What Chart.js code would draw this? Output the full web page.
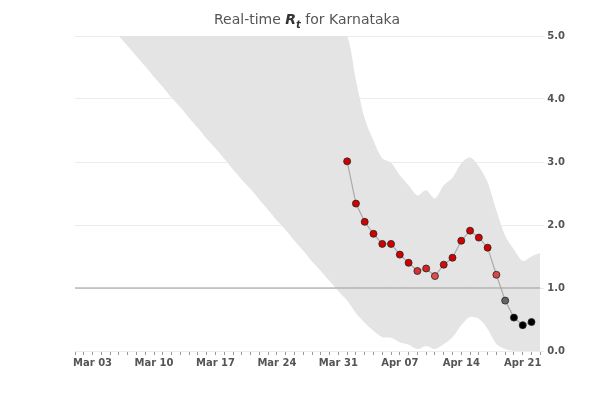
<!DOCTYPE html>
<html>
<head>
<meta charset="utf-8">
<script src="https://cdn.jsdelivr.net/npm/chart.js@4"></script>
<style>
  body { margin: 0; background: #fff; font-family: "DejaVu Sans", sans-serif; }
  #wrap { position: relative; width: 600px; height: 400px; }
  #title { position: absolute; top: 11px; left: 0; width: 614px; text-align: center; font-size: 14px; color: #555; }
  #title b { font-style: italic; color: #333; }
  #title sub { font-size: 10px; }
</style>
</head>
<body>
<div id="wrap">
  <div id="title">Real-time <b>R<sub>t</sub></b> for Karnataka</div>
  <canvas id="c" width="600" height="400"></canvas>
</div>
<script>
const dates = [];
for (let d = 1; d <= 31; d++) dates.push('Mar ' + String(d).padStart(2, '0'));
for (let d = 1; d <= 23; d++) dates.push('Apr ' + String(d).padStart(2, '0'));

// Rt estimate, Apr 01 .. Apr 22
const rt = [3.01, 2.34, 2.05, 1.86, 1.70, 1.70, 1.53, 1.40, 1.27, 1.31, 1.19,
            1.37, 1.48, 1.75, 1.91, 1.80, 1.64, 1.21, 0.80, 0.53, 0.41, 0.46];

// credible interval, Mar 06 .. Apr 23
const lower = [5.0, 4.84, 4.68, 4.52, 4.35, 4.19, 4.02, 3.87, 3.70, 3.54, 3.37, 3.22, 3.05,
  2.88, 2.72, 2.57, 2.40, 2.24, 2.07, 1.92, 1.75, 1.59, 1.42, 1.27, 1.11, 0.95,
  0.80, 0.60, 0.45, 0.32, 0.22, 0.21, 0.14, 0.10, 0.03, 0.08, 0.03, 0.11, 0.22,
  0.41, 0.54, 0.51, 0.35, 0.11, 0.03, 0.0, 0.0, 0.0, 0.0];
const upper = [5, 5, 5, 5, 5, 5, 5, 5, 5, 5, 5, 5, 5, 5, 5, 5, 5, 5, 5, 5, 5, 5, 5, 5, 5, 5,
  5.0, 4.30, 3.69, 3.34, 3.06, 2.99, 2.79, 2.63, 2.47, 2.55, 2.42, 2.63, 2.75,
  2.98, 3.07, 2.93, 2.68, 2.23, 1.83, 1.61, 1.43, 1.50, 1.56];

const pad = (arr, start) => dates.map((_, i) => (i >= start && i - start < arr.length) ? arr[i - start] : null);

const pointColor = (v) => {
  if (v >= 1.4) return '#d40000';
  if (v <= 0.55) return '#000000';
  if (v < 1) { const g = Math.round(40 + (v - 0.55) / 0.45 * 110); return `rgb(${g},${g},${g})`; }
  const t = (v - 1) / 0.4;
  return `rgb(${Math.round(225 - t * 13)},${Math.round(150 - t * 150)},${Math.round(150 - t * 150)})`;
};

new Chart(document.getElementById('c'), {
  type: 'line',
  data: {
    labels: dates,
    datasets: [
      { data: pad(lower, 5), borderWidth: 0, pointRadius: 0, fill: false, tension: 0.3, order: 4 },
      { data: pad(upper, 5), borderWidth: 0, pointRadius: 0, fill: '-1', backgroundColor: '#e4e4e4', tension: 0.3, order: 3 },
      { data: dates.map(() => 1), borderColor: '#999', borderWidth: 1, pointRadius: 0, fill: false, order: 2 },
      {
        data: pad(rt, 31), borderColor: '#aaaaaa', borderWidth: 1.2, order: 1,
        pointRadius: 3.5, pointBorderColor: '#222', pointBorderWidth: 0.8,
        pointBackgroundColor: (ctx) => pointColor(ctx.raw ?? 0)
      }
    ]
  },
  options: {
    responsive: false,
    animation: false,
    layout: { padding: { top: 36, left: 75, right: 32, bottom: 29 } },
    plugins: { legend: { display: false }, tooltip: { enabled: false } },
    scales: {
      x: {
        offset: false,
        grid: { drawOnChartArea: false, drawTicks: true, tickLength: 4, color: '#999' },
        border: { display: false },
        ticks: {
          autoSkip: false, maxRotation: 0, color: '#555', padding: 2,
          font: { family: 'DejaVu Sans', size: 10, weight: 'bold' },
          callback: (v, i) => (i >= 2 && (i - 2) % 7 === 0) ? dates[i] : ''
        }
      },
      y: {
        position: 'right', min: 0, max: 5,
        border: { display: false },
        grid: { color: '#ececec', drawTicks: true, tickLength: 4 },
        ticks: {
          stepSize: 1, color: '#555',
          font: { family: 'DejaVu Sans', size: 10, weight: 'bold' },
          callback: (v) => v.toFixed(1)
        }
      }
    }
  }
});
</script>
</body>
</html>
